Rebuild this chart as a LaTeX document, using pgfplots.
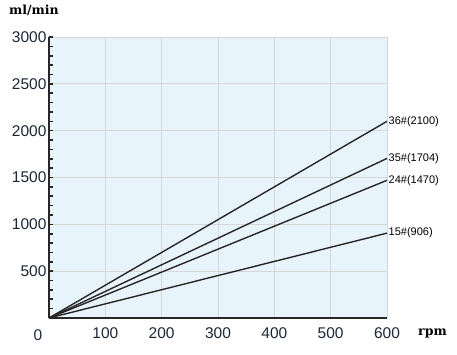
\documentclass[border=0pt]{standalone}
\usepackage{pgfplots}
\pgfplotsset{compat=1.18}
\usepackage{fontspec}
\setmainfont{Liberation Sans}
\newfontfamily\serifb{DejaVu Serif}
\definecolor{bg}{HTML}{E8F4FC}
\definecolor{gridc}{HTML}{D6D6D6}
\definecolor{lab}{HTML}{1E2636}
\definecolor{ln}{HTML}{2A2626}
\begin{document}
\begin{tikzpicture}[x=1pt,y=1pt]
\path[use as bounding box] (0,0) rectangle (457,354);
\begin{axis}[
  at={(49pt,36pt)}, anchor=south west,
  scale only axis, width=338pt, height=281pt,
  xmin=0, xmax=600, ymin=0, ymax=3000,
  axis x line=bottom, axis y line=left,
  axis line style={-, line width=1.8pt, draw=ln},
  axis background/.style={fill=bg},
  xtick={100,200,...,600}, ytick={500,1000,...,3000},
  minor ytick={100,200,...,2900},
  grid=major, major grid style={gridc, line width=0.8pt},
  tick align=inside,
  major tick length=4pt, minor tick length=4pt,
  y tick style={line width=1.6pt, draw=ln},
  x tick style={draw=none},
  ticklabel style={font=\fontsize{15.5}{15.5}\selectfont, text=lab},
  /pgf/number format/assume math mode=true,
  /pgf/number format/1000 sep={},
  xticklabel style={yshift=-6pt},
  yticklabel style={xshift=1pt},
  clip=false,
  every axis plot/.append style={line width=1.4pt, draw=ln},
]
\addplot[no marks] coordinates {(0,0) (600,2100)} node[pos=1, anchor=west, font=\fontsize{11}{11}\selectfont, text=black, inner sep=1pt]{36\#(2100)};
\addplot[no marks] coordinates {(0,0) (600,1704)} node[pos=1, anchor=west, font=\fontsize{11}{11}\selectfont, text=black, inner sep=1pt]{35\#(1704)};
\addplot[no marks] coordinates {(0,0) (600,1470)} node[pos=1, anchor=west, font=\fontsize{11}{11}\selectfont, text=black, inner sep=1pt]{24\#(1470)};
\addplot[no marks] coordinates {(0,0) (600,906)} node[pos=1, anchor=west, font=\fontsize{11}{11}\selectfont, text=black, inner sep=1pt]{15\#(906)};
\end{axis}
\node[anchor=center, font=\fontsize{15.5}{15.5}\selectfont, text=lab] at (38,19) {0};
\node[anchor=west, inner sep=0pt, font=\serifb\bfseries\fontsize{12.5}{12.5}\selectfont] at (9,344) {ml/min};
\node[anchor=west, inner sep=0pt, font=\serifb\bfseries\fontsize{12.5}{12.5}\selectfont] at (418,21) {rpm};
\end{tikzpicture}
\end{document}
